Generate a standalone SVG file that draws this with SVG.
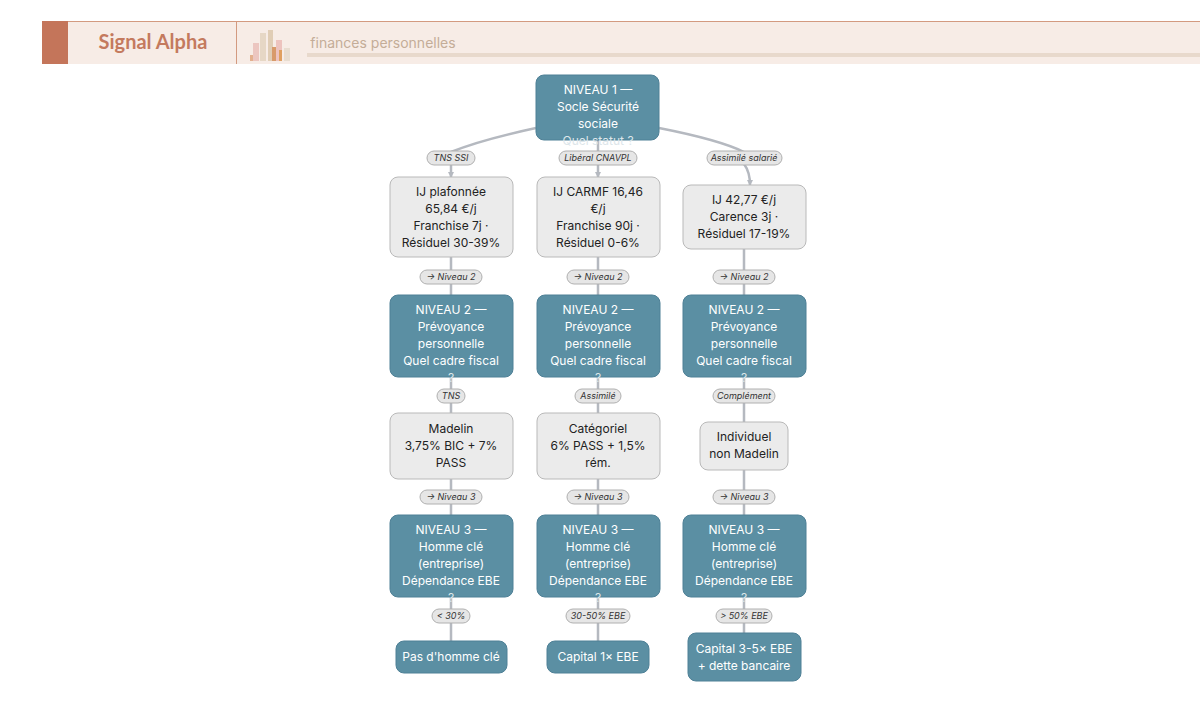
<svg xmlns="http://www.w3.org/2000/svg" width="1200" height="721" viewBox="0 0 1200 721">
<style>
text{font-family:Inter,"Noto Sans",sans-serif;text-anchor:middle}
.t{fill:#5b8fa3;stroke:#4e8096;stroke-width:1}
.g{fill:#ebebeb;stroke:#b9b9b9;stroke-width:1}
.tt{fill:#fff;font-size:12px}
.gt{fill:#222;font-size:12px}
.e{fill:none;stroke:#b5b9c0;stroke-width:2.5}
.lb{fill:#e6e6e6;stroke:#b0b0b0;stroke-width:1}
.lt{fill:#333;font-size:9px;font-style:italic}
</style>
<defs><marker id="a" markerUnits="userSpaceOnUse" markerWidth="6" markerHeight="6" refX="5" refY="3" orient="auto"><path d="M0,0L6,3L0,6z" fill="#b5b9c0"/></marker></defs>
<rect width="1200" height="721" fill="#fff"/>
<g id="header">
<rect x="42" y="21" width="1158" height="43" fill="#f7ece6"/>
<line x1="42" y1="21.5" x2="1200" y2="21.5" stroke="#d39a80"/>
<rect x="42" y="21" width="26" height="43" fill="#c4755a"/>
<line x1="236.5" y1="21" x2="236.5" y2="64" stroke="#d39a80"/>
<text x="153" y="49" style="font-family:Lato,sans-serif;font-size:20px;font-weight:700;fill:#c47a5e">Signal Alpha</text>
<rect x="250" y="55" width="5" height="6" fill="#e3b08e"/>
<rect x="253" y="43" width="6" height="18" fill="#ecc6c0"/>
<rect x="260" y="33" width="6" height="28" fill="#e6d7c5"/>
<rect x="268" y="30" width="5" height="31" fill="#e0cdb5"/>
<rect x="272" y="47" width="4" height="14" fill="#d89a6a"/>
<rect x="276" y="40" width="6" height="21" fill="#edc3be"/>
<rect x="279" y="50" width="3" height="11" fill="#e0a060"/>
<rect x="284" y="48" width="6" height="13" fill="#e8ddd0"/>
<text x="383" y="48" style="font-size:14px;fill:#c4ad98">finances personnelles</text>
<rect x="307" y="53" width="893" height="4" fill="#e8d9cc"/>
</g>
<g id="connectors">
<path class="e" d="M536,128 Q480,140 451,152" />
<path class="e" d="M598,140 V152"/>
<path class="e" d="M659,128 Q720,140 744,152"/>
<path class="e" d="M451,164 V177" marker-end="url(#a)"/>
<path class="e" d="M598,164 V177" marker-end="url(#a)"/>
<path class="e" d="M744,164 Q750,172 750,185" marker-end="url(#a)"/>
<path class="e" d="M451,257 V295 M598,257 V295 M744,249 V295"/>
<path class="e" d="M451,377 V413 M598,377 V413 M744,377 V422"/>
<path class="e" d="M451,479 V515 M598,479 V515 M744,470 V515"/>
<path class="e" d="M451,597 V641 M598,597 V641 M744,597 V633"/>
</g>
<g id="labels">
<rect class="lb" x="427" y="151" width="48" height="14" rx="7"/><text class="lt" x="451" y="161">TNS SSI</text>
<rect class="lb" x="559" y="151" width="78" height="14" rx="7"/><text class="lt" x="598" y="161">Libéral CNAVPL</text>
<rect class="lb" x="707" y="151" width="75" height="14" rx="7"/><text class="lt" x="744" y="161">Assimilé salarié</text>
<rect class="lb" x="420" y="270" width="62" height="14" rx="7"/><text class="lt" x="451" y="280">→ Niveau 2</text>
<rect class="lb" x="567" y="270" width="62" height="14" rx="7"/><text class="lt" x="598" y="280">→ Niveau 2</text>
<rect class="lb" x="713" y="270" width="62" height="14" rx="7"/><text class="lt" x="744" y="280">→ Niveau 2</text>
<rect class="lb" x="437" y="389" width="28" height="14" rx="7"/><text class="lt" x="451" y="399">TNS</text>
<rect class="lb" x="575" y="389" width="46" height="14" rx="7"/><text class="lt" x="598" y="399">Assimilé</text>
<rect class="lb" x="713" y="389" width="62" height="14" rx="7"/><text class="lt" x="744" y="399">Complément</text>
<rect class="lb" x="420" y="490" width="62" height="14" rx="7"/><text class="lt" x="451" y="500">→ Niveau 3</text>
<rect class="lb" x="567" y="490" width="62" height="14" rx="7"/><text class="lt" x="598" y="500">→ Niveau 3</text>
<rect class="lb" x="713" y="490" width="62" height="14" rx="7"/><text class="lt" x="744" y="500">→ Niveau 3</text>
<rect class="lb" x="432" y="609" width="38" height="14" rx="7"/><text class="lt" x="451" y="619">&lt; 30%</text>
<rect class="lb" x="566" y="609" width="64" height="14" rx="7"/><text class="lt" x="598" y="619">30-50% EBE</text>
<rect class="lb" x="716" y="609" width="56" height="14" rx="7"/><text class="lt" x="744" y="619">&gt; 50% EBE</text>
</g>
<g id="n1"><rect class="t" x="536" y="75" width="123" height="65" rx="8"/><text class="tt" x="598" y="94">NIVEAU 1 —</text><text class="tt" x="598" y="111">Socle Sécurité</text><text class="tt" x="598" y="128">sociale</text><text class="tt" x="598" y="145" style="fill:#dde6ea">Quel statut ?</text></g>
<g id="a1"><rect class="g" x="390" y="177" width="123" height="80" rx="8"/><text class="gt" x="451" y="196">IJ plafonnée</text><text class="gt" x="451" y="213">65,84 €/j</text><text class="gt" x="451" y="230">Franchise 7j ·</text><text class="gt" x="451" y="247">Résiduel 30-39%</text></g>
<g id="a2"><rect class="g" x="537" y="177" width="123" height="80" rx="8"/><text class="gt" x="598" y="196">IJ CARMF 16,46</text><text class="gt" x="598" y="213">€/j</text><text class="gt" x="598" y="230">Franchise 90j ·</text><text class="gt" x="598" y="247">Résiduel 0-6%</text></g>
<g id="a3"><rect class="g" x="683" y="185" width="123" height="64" rx="8"/><text class="gt" x="744" y="204">IJ 42,77 €/j</text><text class="gt" x="744" y="221">Carence 3j ·</text><text class="gt" x="744" y="238">Résiduel 17-19%</text></g>
<g id="p1"><rect class="t" x="390" y="295" width="123" height="82" rx="8"/><text class="tt" x="451" y="314">NIVEAU 2 —</text><text class="tt" x="451" y="331">Prévoyance</text><text class="tt" x="451" y="348">personnelle</text><text class="tt" x="451" y="365">Quel cadre fiscal</text><text class="tt" x="451" y="382" style="fill:#dde6ea">?</text></g>
<g id="p2"><rect class="t" x="537" y="295" width="123" height="82" rx="8"/><text class="tt" x="598" y="314">NIVEAU 2 —</text><text class="tt" x="598" y="331">Prévoyance</text><text class="tt" x="598" y="348">personnelle</text><text class="tt" x="598" y="365">Quel cadre fiscal</text><text class="tt" x="598" y="382" style="fill:#dde6ea">?</text></g>
<g id="p3"><rect class="t" x="683" y="295" width="123" height="82" rx="8"/><text class="tt" x="744" y="314">NIVEAU 2 —</text><text class="tt" x="744" y="331">Prévoyance</text><text class="tt" x="744" y="348">personnelle</text><text class="tt" x="744" y="365">Quel cadre fiscal</text><text class="tt" x="744" y="382" style="fill:#dde6ea">?</text></g>
<g id="b1"><rect class="g" x="390" y="413" width="123" height="66" rx="8"/><text class="gt" x="451" y="433">Madelin</text><text class="gt" x="451" y="450">3,75% BIC + 7%</text><text class="gt" x="451" y="467">PASS</text></g>
<g id="b2"><rect class="g" x="537" y="413" width="123" height="66" rx="8"/><text class="gt" x="598" y="433">Catégoriel</text><text class="gt" x="598" y="450">6% PASS + 1,5%</text><text class="gt" x="598" y="467">rém.</text></g>
<g id="b3"><rect class="g" x="700" y="422" width="88" height="48" rx="8"/><text class="gt" x="744" y="441">Individuel</text><text class="gt" x="744" y="458">non Madelin</text></g>
<g id="h1"><rect class="t" x="390" y="515" width="123" height="82" rx="8"/><text class="tt" x="451" y="534">NIVEAU 3 —</text><text class="tt" x="451" y="551">Homme clé</text><text class="tt" x="451" y="568">(entreprise)</text><text class="tt" x="451" y="585">Dépendance EBE</text><text class="tt" x="451" y="602" style="fill:#dde6ea">?</text></g>
<g id="h2"><rect class="t" x="537" y="515" width="123" height="82" rx="8"/><text class="tt" x="598" y="534">NIVEAU 3 —</text><text class="tt" x="598" y="551">Homme clé</text><text class="tt" x="598" y="568">(entreprise)</text><text class="tt" x="598" y="585">Dépendance EBE</text><text class="tt" x="598" y="602" style="fill:#dde6ea">?</text></g>
<g id="h3"><rect class="t" x="683" y="515" width="123" height="82" rx="8"/><text class="tt" x="744" y="534">NIVEAU 3 —</text><text class="tt" x="744" y="551">Homme clé</text><text class="tt" x="744" y="568">(entreprise)</text><text class="tt" x="744" y="585">Dépendance EBE</text><text class="tt" x="744" y="602" style="fill:#dde6ea">?</text></g>
<g id="c1"><rect class="t" x="396" y="641" width="111" height="32" rx="8"/><text class="tt" x="451" y="661">Pas d'homme clé</text></g>
<g id="c2"><rect class="t" x="547" y="641" width="102" height="32" rx="8"/><text class="tt" x="598" y="661">Capital 1× EBE</text></g>
<g id="c3"><rect class="t" x="688" y="633" width="113" height="48" rx="8"/><text class="tt" x="744" y="653">Capital 3-5× EBE</text><text class="tt" x="744" y="670">+ dette bancaire</text></g>
</svg>
